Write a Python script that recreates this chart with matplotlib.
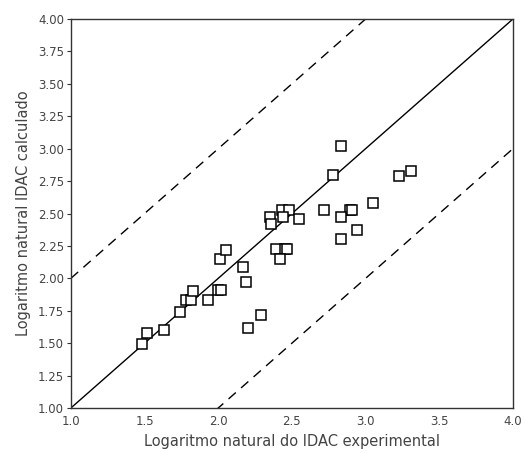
import matplotlib
matplotlib.use('Agg')
from matplotlib import pyplot as plt
import numpy as np

# ln IDAC: experimental vs calculated
ln_exp = [1.48, 1.52, 1.63, 1.74, 1.78, 1.815, 1.83, 1.93, 2.00, 2.02,
          2.01, 2.05, 2.17, 2.19, 2.20, 2.29,
          2.83, 2.78, 3.23, 3.31, 3.05, 2.43, 2.48, 2.715, 2.895, 2.905,
          2.35, 2.44, 2.545, 2.83, 2.355, 2.94, 2.83, 2.39, 2.455, 2.465, 2.42]
ln_calc = [1.49, 1.58, 1.60, 1.74, 1.83, 1.835, 1.90, 1.83, 1.91, 1.91,
           2.15, 2.22, 2.09, 1.97, 1.62, 1.72,
           3.02, 2.80, 2.79, 2.83, 2.58, 2.53, 2.53, 2.53, 2.53, 2.53,
           2.47, 2.47, 2.46, 2.47, 2.42, 2.37, 2.30, 2.23, 2.23, 2.23, 2.15]

x_ticks = [1.0, 1.5, 2.0, 2.5, 3.0, 3.5, 4.0]
y_ticks = [1.00, 1.25, 1.50, 1.75, 2.00, 2.25, 2.50, 2.75, 3.00, 3.25, 3.50, 3.75, 4.00]

plt.rcParams['font.family'] = ['DejaVu Sans']

fig = plt.figure(figsize=(5.25, 4.53), dpi=100)
ax = fig.add_axes([0.135, 0.0993, 0.842, 0.8587])

line = np.array([1.0, 4.0])
ax.plot(line, line, color='black', lw=1.0)
ax.plot(line, line + 1, color='black', lw=1.0, dashes=(7, 5))
ax.plot(line, line - 1, color='black', lw=1.0, dashes=(7, 5))

ax.plot(ln_exp, ln_calc, linestyle='none', marker='s', markersize=6.5,
        markerfacecolor='white', markeredgecolor='black', markeredgewidth=1.1)

ax.set_xlim(1.0, 4.0)
ax.set_ylim(1.0, 4.0)
ax.set_xticks(x_ticks)
ax.set_xticklabels(['%.1f' % v for v in x_ticks])
ax.set_yticks(y_ticks)
ax.set_yticklabels(['%.2f' % v for v in y_ticks])
ax.tick_params(axis='both', labelsize=8.5, colors='#333333', labelcolor='#444444')
ax.tick_params(axis='x', length=0, pad=5)
ax.tick_params(axis='y', length=3, width=0.8, pad=2)
for s in ax.spines.values():
    s.set_linewidth(1.0)
    s.set_color('#333333')

ax.set_xlabel('Logaritmo natural do IDAC experimental', fontsize=10.5, color='#444444', labelpad=4)
ax.set_ylabel('Logaritmo natural IDAC calculado', fontsize=10.5, color='#444444', labelpad=5)

fig.savefig('out.png', dpi=100)
